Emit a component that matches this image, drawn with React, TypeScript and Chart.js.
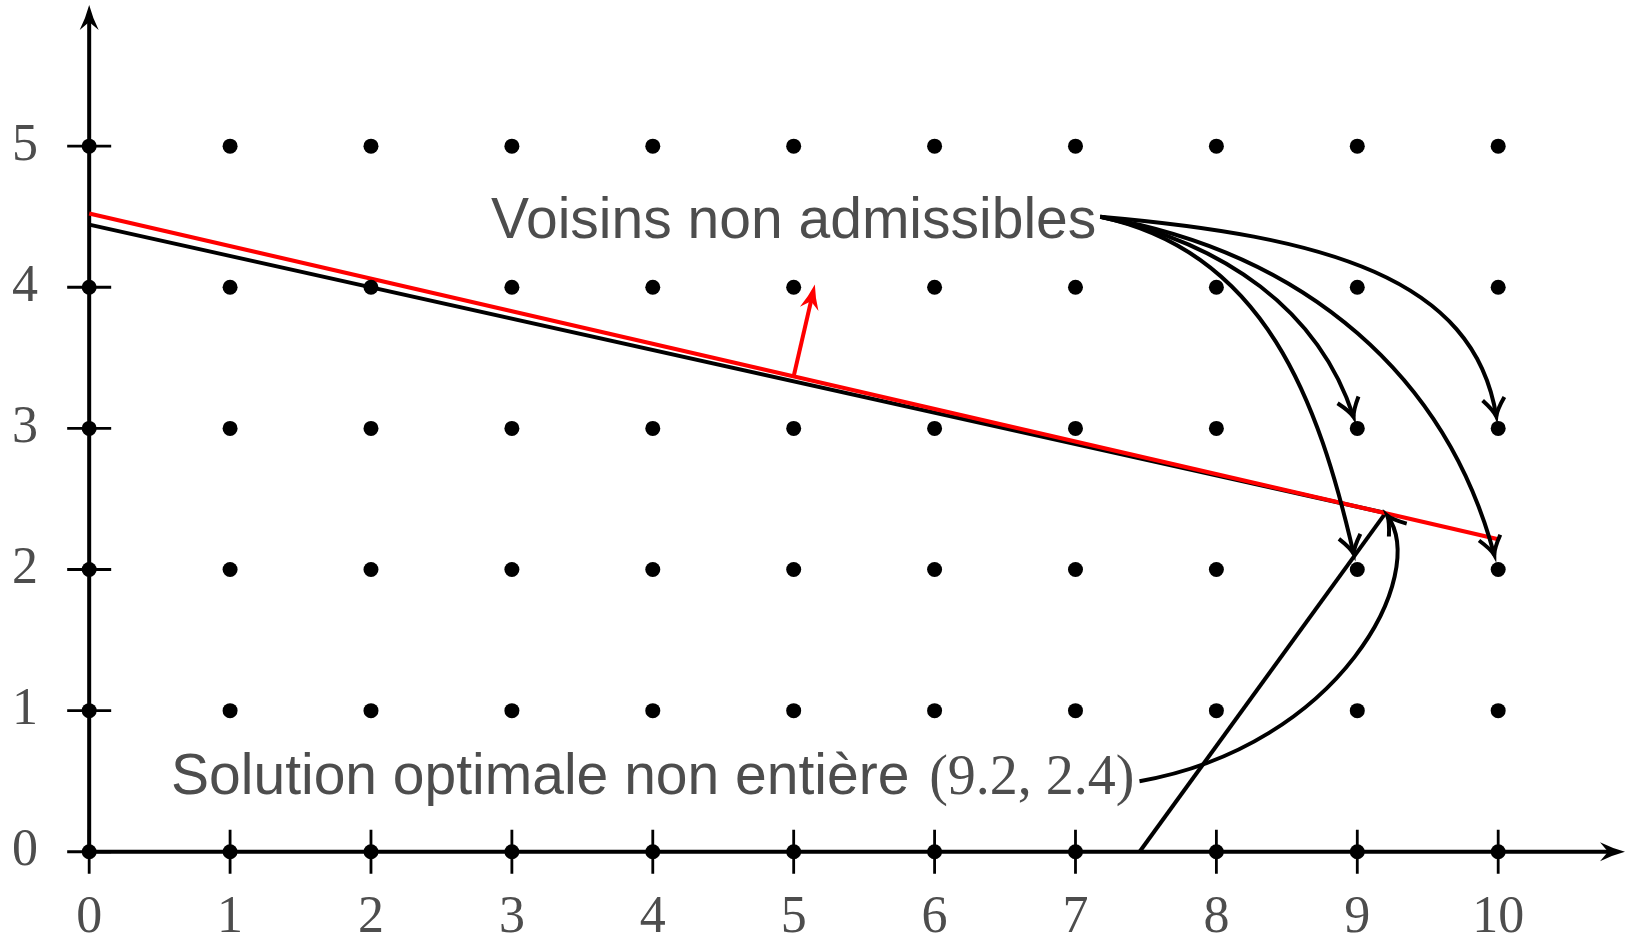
import React, { useEffect, useRef } from 'react';
import { Chart, registerables } from 'chart.js';

Chart.register(...registerables);

// ---- data ----
const xTickValues = [0, 1, 2, 3, 4, 5, 6, 7, 8, 9, 10];
const yTickValues = [0, 1, 2, 3, 4, 5];
const latticeX = [0, 1, 2, 3, 4, 5, 6, 7, 8, 9, 10];
const latticeY = [0, 1, 2, 3, 4, 5];

// constraint 2x + 9y = 40 (drawn up to the optimum)
const constraintAX = [0, 9.2];
const constraintAY = [4.444, 2.4];
// constraint 11x - 8y = 82
const constraintBX = [7.455, 9.2];
const constraintBY = [0, 2.4];
// objective line through the optimum
const objectiveX = [0, 10];
const objectiveY = [4.523, 2.215];
// objective gradient arrow
const gradientX = [5, 5.15];
const gradientY = [3.369, 4.019];

const axisMax = { x: 10.9, y: 6 };

const voisinsLabel = { text: 'Voisins non admissibles', x: 5, y: 4.5 };
const solutionLabel = { text: 'Solution optimale non entière', math: '(9.2, 2.4)', x: 4, y: 0.5 };
const solutionPoint = { x: 9.2, y: 2.4 };

const neighborTargetX = [9, 10, 9, 10];
const neighborTargetY = [3, 3, 2, 2];
// bend description of each curved arrow: out angle, out handle, in angle, in handle (data units)
const neighborOut = [-12, -5, -12, -10];
const neighborOutLen = [0.9, 1.6, 1.2, 1.5];
const neighborIn = [108, 99, 103, 105];
const neighborInLen = [0.8, 1.0, 1.1, 1.3];
const neighborShorten = [12, 12, 16, 15];
const solutionBend = { out: 10, outLen: 1.45, inAngle: -54, inLen: 0.51 };

const TEXT_GREY = '#4d4d4d';
const SANS = '"Liberation Sans", Arial, sans-serif';
const SERIF = '"Liberation Serif", "Times New Roman", serif';

function stealth(ctx: CanvasRenderingContext2D, tx: number, ty: number, ux: number, uy: number, len = 25, half = 9.5, notch = 8) {
  const nx = -uy, ny = ux;
  const bx = tx - ux * len, by = ty - uy * len;
  ctx.beginPath();
  ctx.moveTo(tx, ty);
  ctx.quadraticCurveTo(tx - ux * len * 0.5 + nx * half * 0.35, ty - uy * len * 0.5 + ny * half * 0.35, bx + nx * half, by + ny * half);
  ctx.lineTo(tx - ux * (len - notch), ty - uy * (len - notch));
  ctx.lineTo(bx - nx * half, by - ny * half);
  ctx.quadraticCurveTo(tx - ux * len * 0.5 - nx * half * 0.35, ty - uy * len * 0.5 - ny * half * 0.35, tx, ty);
  ctx.closePath();
  ctx.fill();
}

function toTip(ctx: CanvasRenderingContext2D, tx: number, ty: number, ux: number, uy: number) {
  const nx = -uy, ny = ux;
  const L = 18, H = 11;
  ctx.beginPath();
  ctx.moveTo(tx - ux * L + nx * H, ty - uy * L + ny * H);
  ctx.quadraticCurveTo(tx - ux * L * 0.35 + nx * H * 0.15, ty - uy * L * 0.35 + ny * H * 0.15, tx, ty);
  ctx.quadraticCurveTo(tx - ux * L * 0.35 - nx * H * 0.15, ty - uy * L * 0.35 - ny * H * 0.15, tx - ux * L - nx * H, ty - uy * L - ny * H);
  ctx.stroke();
}

function bendArrow(
  ctx: CanvasRenderingContext2D,
  sx: number, sy: number, tx: number, ty: number,
  outDeg: number, outLen: number, inDeg: number, inLen: number, shorten: number
) {
  const oa = (outDeg * Math.PI) / 180;
  const ia = (inDeg * Math.PI) / 180;
  const ix = Math.cos(ia), iy = -Math.sin(ia);
  const ex = tx + ix * shorten, ey = ty + iy * shorten;
  const c1x = sx + Math.cos(oa) * outLen, c1y = sy - Math.sin(oa) * outLen;
  const c2x = ex + ix * inLen, c2y = ey + iy * inLen;
  ctx.beginPath();
  ctx.moveTo(sx, sy);
  ctx.bezierCurveTo(c1x, c1y, c2x, c2y, ex, ey);
  ctx.stroke();
  let ux = ex - c2x, uy = ey - c2y;
  const n = Math.hypot(ux, uy) || 1;
  ux /= n; uy /= n;
  toTip(ctx, ex, ey, ux, uy);
}

const overlay = {
  id: 'overlay',
  beforeDatasetsDraw(chart: any) {
    const { ctx, scales } = chart;
    const xs = scales.x, ys = scales.y;
    const px = (v: number) => xs.getPixelForValue(v);
    const py = (v: number) => ys.getPixelForValue(v);
    const x0 = px(0), y0 = py(0);
    const xe = px(axisMax.x), ye = py(axisMax.y);
    ctx.save();
    ctx.strokeStyle = '#000';
    ctx.fillStyle = '#000';
    ctx.lineCap = 'butt';
    ctx.lineWidth = 4;
    ctx.beginPath();
    ctx.moveTo(x0, y0);
    ctx.lineTo(xe - 14, y0);
    ctx.moveTo(x0, y0);
    ctx.lineTo(x0, ye + 14);
    ctx.stroke();
    stealth(ctx, xe, y0, 1, 0);
    stealth(ctx, x0, ye, 0, -1);
    ctx.lineWidth = 2.8;
    ctx.beginPath();
    xTickValues.forEach((v) => {
      ctx.moveTo(px(v), y0 - 22);
      ctx.lineTo(px(v), y0 + 22);
    });
    yTickValues.forEach((v) => {
      ctx.moveTo(x0 - 22, py(v));
      ctx.lineTo(x0 + 22, py(v));
    });
    ctx.stroke();
    ctx.restore();
  },
  afterDatasetsDraw(chart: any) {
    const { ctx, scales } = chart;
    const xs = scales.x, ys = scales.y;
    const px = (v: number) => xs.getPixelForValue(v);
    const py = (v: number) => ys.getPixelForValue(v);
    const unit = px(1) - px(0);
    ctx.save();

    // gradient arrow (red)
    {
      const sx = px(gradientX[0]), sy = py(gradientY[0]);
      const tx = px(gradientX[1]), ty = py(gradientY[1]);
      let ux = tx - sx, uy = ty - sy;
      const n = Math.hypot(ux, uy);
      ux /= n; uy /= n;
      ctx.strokeStyle = '#ff0000';
      ctx.fillStyle = '#ff0000';
      ctx.lineWidth = 4;
      ctx.beginPath();
      ctx.moveTo(sx, sy);
      ctx.lineTo(tx - ux * 14, ty - uy * 14);
      ctx.stroke();
      stealth(ctx, tx, ty, ux, uy, 25, 9.5, 8);
    }

    // labels
    ctx.fillStyle = TEXT_GREY;
    ctx.textBaseline = 'alphabetic';
    ctx.textAlign = 'left';
    ctx.font = `57px ${SANS}`;
    const vw = ctx.measureText(voisinsLabel.text).width;
    const vLeft = px(voisinsLabel.x) - vw / 2;
    const vBase = py(voisinsLabel.y) + 21;
    ctx.fillText(voisinsLabel.text, vLeft, vBase);

    const sw = ctx.measureText(solutionLabel.text).width;
    const gap = ctx.measureText(' ').width + 4;
    ctx.font = `56px ${SERIF}`;
    const mw = ctx.measureText(solutionLabel.math).width;
    const total = sw + gap + mw;
    const sLeft = px(solutionLabel.x) - total / 2;
    const sBase = py(solutionLabel.y) + 13;
    ctx.font = `57px ${SANS}`;
    ctx.fillText(solutionLabel.text, sLeft, sBase);
    ctx.font = `56px ${SERIF}`;
    ctx.fillText(solutionLabel.math, sLeft + sw + gap, sBase);

    // curved arrows
    ctx.strokeStyle = '#000';
    ctx.lineWidth = 4;
    ctx.lineCap = 'butt';
    const vsx = vLeft + vw + 4, vsy = py(voisinsLabel.y);
    for (let i = 0; i < neighborTargetX.length; i++) {
      bendArrow(
        ctx, vsx, vsy, px(neighborTargetX[i]), py(neighborTargetY[i]),
        neighborOut[i], neighborOutLen[i] * unit, neighborIn[i], neighborInLen[i] * unit, neighborShorten[i]
      );
    }
    bendArrow(
      ctx, sLeft + total + 5, py(solutionLabel.y), px(solutionPoint.x), py(solutionPoint.y),
      solutionBend.out, solutionBend.outLen * unit, solutionBend.inAngle, solutionBend.inLen * unit, 3
    );
    ctx.restore();
  },
};

function pts(xa: number[], ya: number[]) {
  return xa.map((x, i) => ({ x, y: ya[i] }));
}

export default function App() {
  const ref = useRef<HTMLCanvasElement | null>(null);
  useEffect(() => {
    document.body.style.margin = '0';
    document.body.style.overflow = 'hidden';
    const canvas = ref.current;
    if (!canvas) return;
    const lattice: { x: number; y: number }[] = [];
    latticeY.forEach((y) => latticeX.forEach((x) => lattice.push({ x, y })));
    const tickFont = { family: SERIF, size: 52 };
    const chart = new Chart(canvas, {
      type: 'scatter',
      data: {
        datasets: [
          { data: lattice, pointRadius: 7.5, pointBackgroundColor: '#000', pointBorderWidth: 0, showLine: false },
          { data: pts(objectiveX, objectiveY), showLine: true, borderColor: '#ff0000', borderWidth: 4.2, pointRadius: 0 },
          { data: pts(constraintAX, constraintAY), showLine: true, borderColor: '#000', borderWidth: 4, pointRadius: 0 },
          { data: pts(constraintBX, constraintBY), showLine: true, borderColor: '#000', borderWidth: 4, pointRadius: 0 },
        ],
      } as any,
      options: {
        responsive: false,
        animation: false,
        devicePixelRatio: 1,
        layout: { autoPadding: false, padding: { top: 5, left: 0, right: 0, bottom: 0 } },
        plugins: { legend: { display: false }, tooltip: { enabled: false } },
        events: [],
        scales: {
          x: {
            type: 'linear',
            min: -0.2,
            max: axisMax.x,
            grid: { display: false, drawTicks: false },
            border: { display: false },
            ticks: { font: tickFont, color: TEXT_GREY, padding: 7, autoSkip: false, maxRotation: 0 },
            afterBuildTicks: (s: any) => { s.ticks = xTickValues.map((v) => ({ value: v })); },
            afterFit: (s: any) => { s.height = 62; s.paddingLeft = 0; s.paddingRight = 0; },
          },
          y: {
            type: 'linear',
            min: -0.2,
            max: axisMax.y,
            grid: { display: false, drawTicks: false },
            border: { display: false },
            ticks: { font: tickFont, color: TEXT_GREY, padding: 23, autoSkip: false },
            afterBuildTicks: (s: any) => { s.ticks = yTickValues.map((v) => ({ value: v })); },
            afterFit: (s: any) => { s.width = 61; s.paddingTop = 0; s.paddingBottom = 0; },
          },
        },
      } as any,
      plugins: [overlay],
    });
    return () => chart.destroy();
  }, []);
  return <canvas ref={ref} width={1625} height={942} style={{ display: 'block' }} />;
}
